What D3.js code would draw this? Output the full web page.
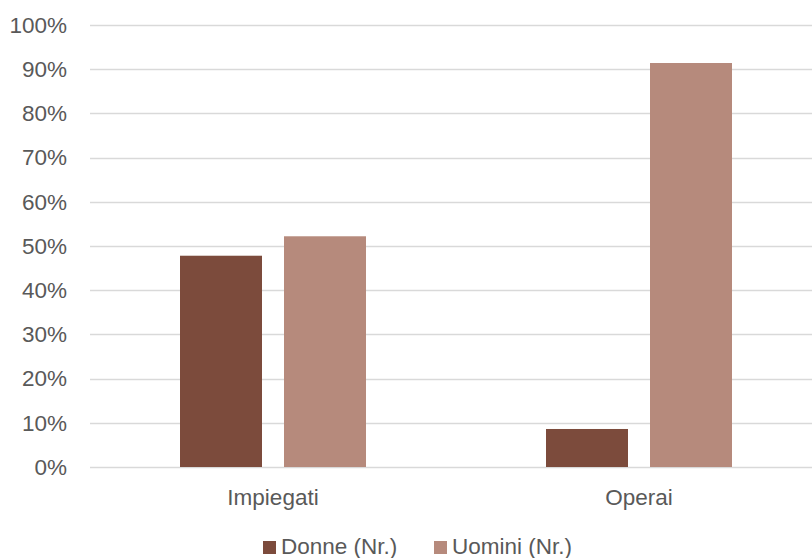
<!DOCTYPE html>
<html>
<head>
<meta charset="utf-8">
<script src="https://cdn.jsdelivr.net/npm/d3@7"></script>
<style>
  html, body { margin: 0; padding: 0; background: #fff; }
  svg { display: block; font-family: "Liberation Sans", Arial, sans-serif; }
</style>
</head>
<body>
<svg id="chart" width="812" height="558"></svg>
<script>
// Share of staff by gender, per job category
const categories = ["Impiegati", "Operai"];
const seriesNames = ["Donne (Nr.)", "Uomini (Nr.)"];
const donne = [0.478, 0.086];
const uomini = [0.522, 0.914];
const yTicks = [0, 0.1, 0.2, 0.3, 0.4, 0.5, 0.6, 0.7, 0.8, 0.9, 1.0];
const colors = ["#7C4B3C", "#B68A7C"];

const series = [donne, uomini];
const svg = d3.select("#chart");
const textColor = "#595959";
const gridColor = "#D9D9D9";

const x = d3.scaleBand().domain(categories).range([90, 822]).paddingInner(0).paddingOuter(0);
const x1 = d3.scaleBand().domain(seriesNames).range([90, 276]).paddingInner(22 / 104);
const y = d3.scaleLinear().domain([0, 1]).range([467, 25]);

// horizontal gridlines
svg.append("g")
  .selectAll("line")
  .data(yTicks)
  .join("line")
  .attr("x1", 90).attr("x2", 812)
  .attr("y1", d => Math.round(y(d)) + 0.5)
  .attr("y2", d => Math.round(y(d)) + 0.5)
  .attr("stroke", gridColor)
  .attr("stroke-width", 1.3);

// y axis labels
const yAxis = d3.axisLeft(y).tickValues(yTicks).tickFormat(d3.format(".0%")).tickSize(0).tickPadding(23);
const gy = svg.append("g").attr("transform", "translate(90,0)").call(yAxis);
gy.select(".domain").remove();
gy.selectAll("text").attr("fill", textColor).attr("font-size", "22.5px")
  .attr("font-family", "Liberation Sans, Arial, sans-serif");

// bars
const groups = svg.append("g")
  .selectAll("g")
  .data(categories)
  .join("g")
  .attr("transform", d => `translate(${x(d)},0)`);

groups.selectAll("rect")
  .data((c, i) => seriesNames.map((s, j) => ({ s, v: series[j][i], j })))
  .join("rect")
  .attr("x", d => x1(d.s))
  .attr("width", x1.bandwidth())
  .attr("y", d => y(d.v))
  .attr("height", d => y(0) - y(d.v))
  .attr("fill", d => colors[d.j]);

// category labels
const xAxis = d3.axisBottom(x).tickSize(0).tickPadding(22);
const gx = svg.append("g").attr("transform", "translate(0,467)").call(xAxis);
gx.select(".domain").remove();
gx.selectAll("text").attr("fill", textColor).attr("font-size", "22.5px")
  .attr("font-family", "Liberation Sans, Arial, sans-serif");

// legend
const legendX = [263, 434];
const legend = svg.append("g")
  .selectAll("g")
  .data(seriesNames)
  .join("g")
  .attr("transform", (d, i) => `translate(${legendX[i]},541)`);
legend.append("rect").attr("width", 13).attr("height", 13).attr("fill", (d, i) => colors[i]);
legend.append("text")
  .attr("x", 18).attr("y", 13)
  .attr("fill", textColor)
  .attr("font-size", "22.5px")
  .text(d => d);
</script>
</body>
</html>
